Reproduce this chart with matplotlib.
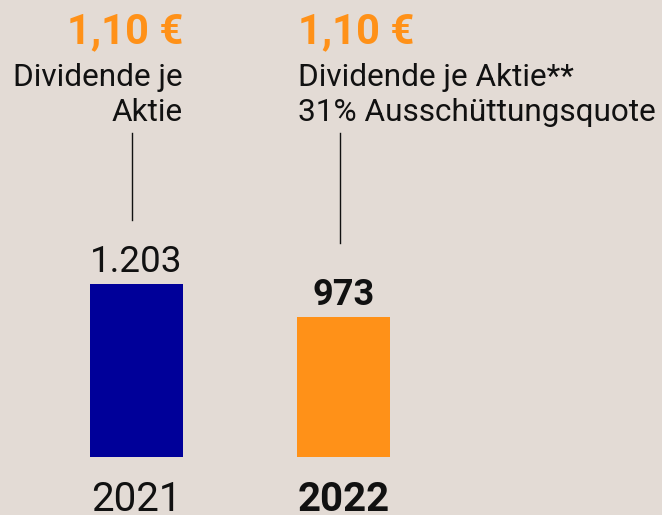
import matplotlib
matplotlib.use("Agg")
import matplotlib.pyplot as plt

years = ["2021", "2022"]
values = [1203, 973]
value_labels = ["1.203", "973"]
dividend = ["1,10 €", "1,10 €"]
notes = [["Dividende je", "Aktie"], ["Dividende je Aktie**", "31% Ausschüttungsquote"]]

BG = "#e3dbd5"
BAR_COLORS = ["#000099", "#ff9118"]
ORANGE = "#ff9118"
INK = "#111111"
W, H = 662, 515
plt.rcParams["font.family"] = ["Roboto", "DejaVu Sans"]

fig = plt.figure(figsize=(W / 100, H / 100), dpi=100, facecolor=BG)
ax = fig.add_axes([0, 0, 1, 1], facecolor=BG)
ax.set_xlim(-0.659, 2.539)
ax.set_ylim(-403, 3178)
ax.axis("off")

x = list(range(len(years)))
ax.bar(x, values, width=0.449, color=BAR_COLORS, zorder=2)

def px(xp, yp):
    return xp / W, 1 - yp / H

weights = ["normal", "bold"]
label_sizes = [26.5, 26]
for i, (xi, v) in enumerate(zip(x, values)):
    ax.annotate(value_labels[i], (xi, v), xytext=(0, 9), textcoords="offset points",
                ha="center", va="baseline", fontsize=label_sizes[i],
                fontweight=weights[i], color=INK)
    # year labels run off the bottom edge, as in the source image
    ax.annotate(years[i], (xi, 0), xytext=(0, -39), textcoords="offset points",
                ha="center", va="baseline", fontsize=29, fontweight=weights[i], color=INK)

# left block (right aligned)
fig.text(*px(183, 43), dividend[0], ha="right", va="baseline", fontsize=30,
         fontweight="bold", color=ORANGE)
fig.text(*px(183, 86), notes[0][0], ha="right", va="baseline", fontsize=22.7, color=INK)
fig.text(*px(183, 121), notes[0][1], ha="right", va="baseline", fontsize=22.7, color=INK)
# right block (left aligned)
fig.text(*px(298, 43), dividend[1], ha="left", va="baseline", fontsize=30,
         fontweight="bold", color=ORANGE)
fig.text(*px(298, 86), notes[1][0], ha="left", va="baseline", fontsize=22.7, color=INK)
fig.text(*px(298, 121), notes[1][1], ha="left", va="baseline", fontsize=22.7, color=INK)

# connector lines
for xl, y0, y1 in [(132, 133, 220), (340, 133, 243)]:
    fig.add_artist(plt.Line2D([xl / W, xl / W], [1 - y0 / H, 1 - y1 / H],
                              transform=fig.transFigure, color=INK, lw=1))

fig.savefig("out.png", dpi=100, facecolor=BG)
